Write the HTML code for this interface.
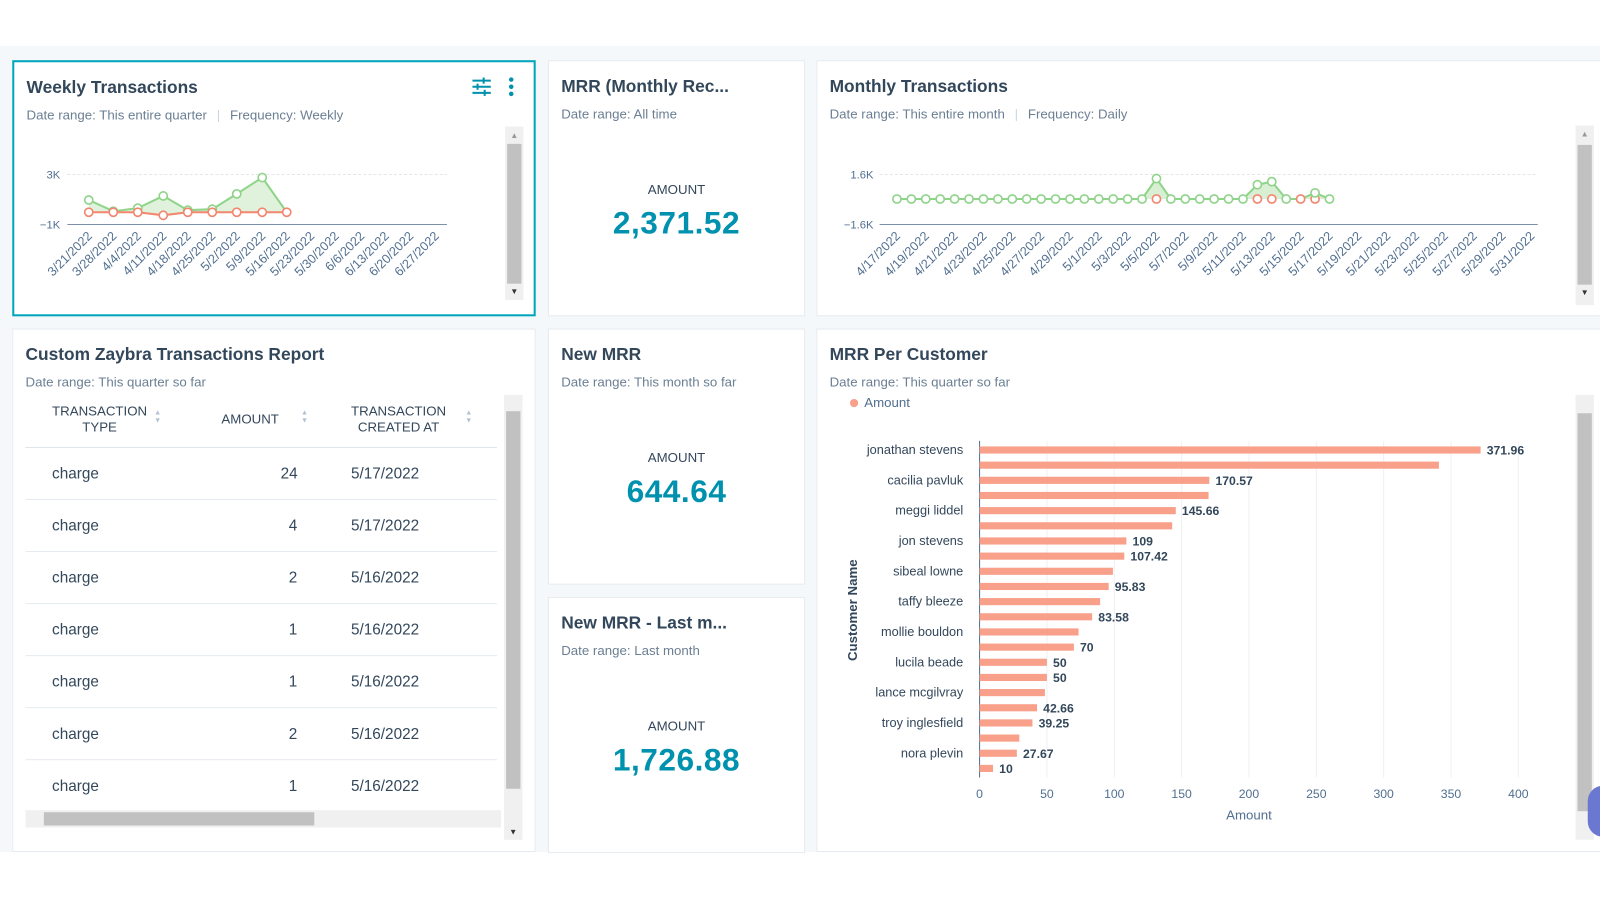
<!DOCTYPE html>
<html><head><meta charset="utf-8"><style>
*{box-sizing:border-box;margin:0;padding:0}
body{width:1600px;height:900px;background:#fff;font-family:"Liberation Sans",sans-serif;color:#33475b;position:relative;overflow:hidden}
#w{position:absolute;left:0;top:0;width:1568px;height:882px;transform:scale(1.0204);transform-origin:0 0}
.bg{position:absolute;left:0;top:45px;width:1600px;height:790px;background:#f5f8fa}
.card{position:absolute;background:#fff;border:1px solid #e5ebf0}
.t{position:absolute;left:12px;top:15px;font-size:17px;font-weight:bold;color:#33475b;white-space:nowrap}
.s{position:absolute;left:12px;top:44px;font-size:13px;color:#6b7f93;white-space:nowrap}
.amt{position:absolute;width:100%;text-align:center;font-size:13px;color:#33475b}
.big{position:absolute;width:100%;text-align:center;font-size:31px;font-weight:bold;color:#0091ae;letter-spacing:0.5px}
.sb{position:absolute;background:#f0f0f0}
.th{position:absolute;background:#c1c1c1}
.row{position:absolute;left:12px;width:462px;height:51px;border-bottom:1px solid #e5ebf0;font-size:15px;color:#33475b}
.row span{position:absolute;top:17px}
</style></head><body><div id="w">
<div class="bg"></div>

<div class="card" style="left:12px;top:59px;width:513px;height:251px;border:2px solid #00a4bd">
<div class="t">Weekly Transactions</div>
<div class="s">Date range: This entire quarter <span style="color:#cbd6e2;margin:0 6px">|</span> Frequency: Weekly</div>
<svg style="position:absolute;left:447px;top:14px" width="22" height="20"><g stroke="#0091ae" stroke-width="2"><line x1="2" y1="4" x2="20" y2="4"/><line x1="2" y1="10" x2="20" y2="10"/><line x1="2" y1="16" x2="20" y2="16"/></g><g fill="#0091ae"><rect x="12" y="1" width="2" height="6"/><rect x="6" y="7" width="2" height="6"/><rect x="13" y="13" width="2" height="6"/></g></svg>
<svg style="position:absolute;left:483px;top:14px" width="8" height="20"><circle cx="4" cy="3" r="2.2" fill="#0091ae"/><circle cx="4" cy="10" r="2.2" fill="#0091ae"/><circle cx="4" cy="17" r="2.2" fill="#0091ae"/></svg>
<div class="sb" style="left:481px;top:63px;width:18px;height:170px"></div>
<div class="th" style="left:483px;top:80px;width:14px;height:137px"></div>
<div style="position:absolute;left:486px;top:67px;font-size:8px;color:#999">▲</div>
<div style="position:absolute;left:486px;top:220px;font-size:8px;color:#333">▼</div>
</div>
<svg style="position:absolute;left:0;top:0" width="540" height="310">
<line x1="66" y1="171" x2="438" y2="171" stroke="#e6e6e6" stroke-dasharray="3,2"/>
<line x1="66" y1="220" x2="438" y2="220" stroke="#7d8fa9"/>
<text x="59" y="175" font-size="11" fill="#516f90" text-anchor="end" font-family="Liberation Sans">3K</text>
<text x="59" y="224" font-size="11" fill="#516f90" text-anchor="end" font-family="Liberation Sans">−1K</text>
<polygon points="87,196 111,207 135,204 160,192 184,206 208,205 232,190 257,174 281,208 281,208 257,208 232,208 208,208 184,208 160,211 135,208 111,208 87,208" fill="#d8efd3" opacity="0.8"/>
<polyline points="87,196 111,207 135,204 160,192 184,206 208,205 232,190 257,174 281,208" fill="none" stroke="#8fd48a" stroke-width="2"/>
<polyline points="87,208 111,208 135,208 160,211 184,208 208,208 232,208 257,208 281,208" fill="none" stroke="#f2866e" stroke-width="2"/>
<g fill="#fff" stroke="#8fd48a" stroke-width="1.6"><circle cx="87" cy="196" r="4"/><circle cx="111" cy="207" r="4"/><circle cx="135" cy="204" r="4"/><circle cx="160" cy="192" r="4"/><circle cx="184" cy="206" r="4"/><circle cx="208" cy="205" r="4"/><circle cx="232" cy="190" r="4"/><circle cx="257" cy="174" r="4"/></g>
<g fill="#fff" stroke="#f2866e" stroke-width="1.6"><circle cx="87" cy="208" r="4"/><circle cx="111" cy="208" r="4"/><circle cx="135" cy="208" r="4"/><circle cx="160" cy="211" r="4"/><circle cx="184" cy="208" r="4"/><circle cx="208" cy="208" r="4"/><circle cx="232" cy="208" r="4"/><circle cx="257" cy="208" r="4"/><circle cx="281" cy="208" r="4"/></g>
<g font-size="12.5" fill="#516f90" font-family="Liberation Sans" text-anchor="end">
<text transform="translate(91,232) rotate(-45)">3/21/2022</text><text transform="translate(115,232) rotate(-45)">3/28/2022</text><text transform="translate(139,232) rotate(-45)">4/4/2022</text><text transform="translate(164,232) rotate(-45)">4/11/2022</text><text transform="translate(188,232) rotate(-45)">4/18/2022</text><text transform="translate(212,232) rotate(-45)">4/25/2022</text><text transform="translate(236,232) rotate(-45)">5/2/2022</text><text transform="translate(261,232) rotate(-45)">5/9/2022</text><text transform="translate(285,232) rotate(-45)">5/16/2022</text><text transform="translate(309,232) rotate(-45)">5/23/2022</text><text transform="translate(333,232) rotate(-45)">5/30/2022</text><text transform="translate(358,232) rotate(-45)">6/6/2022</text><text transform="translate(382,232) rotate(-45)">6/13/2022</text><text transform="translate(406,232) rotate(-45)">6/20/2022</text><text transform="translate(431,232) rotate(-45)">6/27/2022</text>
</g></svg>

<div class="card" style="left:537px;top:59px;width:252px;height:251px">
<div class="t">MRR (Monthly Rec...</div><div class="s">Date range: All time</div>
<div class="amt" style="top:118px">AMOUNT</div><div class="big" style="top:141px">2,371.52</div></div>

<div class="card" style="left:800px;top:59px;width:790px;height:251px">
<div class="t">Monthly Transactions</div>
<div class="s">Date range: This entire month <span style="color:#cbd6e2;margin:0 6px">|</span> Frequency: Daily</div>
<div class="sb" style="left:743px;top:63px;width:18px;height:176px"></div>
<div class="th" style="left:745px;top:82px;width:14px;height:137px"></div>
<div style="position:absolute;left:748px;top:67px;font-size:8px;color:#999">▲</div>
<div style="position:absolute;left:748px;top:222px;font-size:8px;color:#333">▼</div>
</div>
<svg id="m" style="position:absolute;left:0;top:0" width="1600" height="310"></svg>

<div class="card" style="left:12px;top:322px;width:513px;height:513px">
<div class="t">Custom Zaybra Transactions Report</div><div class="s">Date range: This quarter so far</div>
<div style="position:absolute;left:12px;top:72px;width:462px;height:44px;border-bottom:1px solid #dfe3eb;font-size:13px;color:#33475b">
<div style="position:absolute;left:26px;top:0;text-align:center;line-height:16px">TRANSACTION<br>TYPE</div>
<div style="position:absolute;left:192px;top:8px">AMOUNT</div>
<div style="position:absolute;left:319px;top:0;text-align:center;line-height:16px">TRANSACTION<br>CREATED AT</div>
<div style="position:absolute;left:126px;top:6px;font-size:7px;color:#b0c1d4;line-height:8px">▲<br>▼</div>
<div style="position:absolute;left:270px;top:6px;font-size:7px;color:#b0c1d4;line-height:8px">▲<br>▼</div>
<div style="position:absolute;left:431px;top:6px;font-size:7px;color:#b0c1d4;line-height:8px">▲<br>▼</div>
</div>
<div class="row" style="top:116px"><span style="left:26px">charge</span><span style="left:250px">24</span><span style="left:319px">5/17/2022</span></div>
<div class="row" style="top:167px"><span style="left:26px">charge</span><span style="left:258px">4</span><span style="left:319px">5/17/2022</span></div>
<div class="row" style="top:218px"><span style="left:26px">charge</span><span style="left:258px">2</span><span style="left:319px">5/16/2022</span></div>
<div class="row" style="top:269px"><span style="left:26px">charge</span><span style="left:258px">1</span><span style="left:319px">5/16/2022</span></div>
<div class="row" style="top:320px"><span style="left:26px">charge</span><span style="left:258px">1</span><span style="left:319px">5/16/2022</span></div>
<div class="row" style="top:371px"><span style="left:26px">charge</span><span style="left:258px">2</span><span style="left:319px">5/16/2022</span></div>
<div class="row" style="top:422px;border:none"><span style="left:26px">charge</span><span style="left:258px">1</span><span style="left:319px">5/16/2022</span></div>
<div class="sb" style="left:12px;top:471px;width:466px;height:17px"></div>
<div class="th" style="left:30px;top:473px;width:265px;height:13px"></div>
<div class="sb" style="left:481px;top:64px;width:18px;height:436px"></div>
<div class="th" style="left:483px;top:80px;width:14px;height:370px"></div>
<div style="position:absolute;left:486px;top:488px;font-size:8px;color:#333">▼</div>
</div>

<div class="card" style="left:537px;top:322px;width:252px;height:251px">
<div class="t">New MRR</div><div class="s">Date range: This month so far</div>
<div class="amt" style="top:118px">AMOUNT</div><div class="big" style="top:141px">644.64</div></div>
<div class="card" style="left:537px;top:585px;width:252px;height:251px">
<div class="t">New MRR - Last m...</div><div class="s">Date range: Last month</div>
<div class="amt" style="top:118px">AMOUNT</div><div class="big" style="top:141px">1,726.88</div></div>

<div class="card" style="left:800px;top:322px;width:790px;height:513px">
<div class="t">MRR Per Customer</div><div class="s">Date range: This quarter so far</div>
<div style="position:absolute;left:32px;top:64px;font-size:13px;color:#516f90"><span style="display:inline-block;width:8px;height:8px;border-radius:50%;background:#f8a08a;margin-right:6px"></span>Amount</div>
<div class="sb" style="left:743px;top:64px;width:18px;height:436px"></div>
<div class="th" style="left:745px;top:82px;width:14px;height:390px"></div>
</div>
<svg id="b" style="position:absolute;left:0;top:0" width="1600" height="900"></svg>
<div style="position:absolute;left:1556px;top:770px;width:30px;height:50px;border-radius:15px;background:#6a78d1"></div>
</div>
<script>
var ns="http://www.w3.org/2000/svg";
function el(p,t,a,txt){var e=document.createElementNS(ns,t);for(var k in a)e.setAttribute(k,a[k]);if(txt!==undefined)e.textContent=txt;p.appendChild(e);return e;}
var m=document.getElementById('m');
el(m,'line',{x1:862,y1:171,x2:1507,y2:171,stroke:'#e6e6e6','stroke-dasharray':'3,2'});
el(m,'line',{x1:862,y1:220,x2:1507,y2:220,stroke:'#7d8fa9'});
el(m,'text',{x:856,y:175,'font-size':11,fill:'#516f90','text-anchor':'end','font-family':'Liberation Sans'},'1.6K');
el(m,'text',{x:856,y:224,'font-size':11,fill:'#516f90','text-anchor':'end','font-family':'Liberation Sans'},'−1.6K');
var g={18:175,25:181,26:178,29:189},red=[18,25,26,28,29];
var pts=[],bp=[];for(var i=0;i<31;i++){var x=879+i*14.13;pts.push(x+','+(g[i]||195));bp.unshift(x+',195');}
el(m,'polygon',{points:pts.concat(bp).join(' '),fill:'#d8efd3'});
el(m,'polyline',{points:pts.join(' '),fill:'none',stroke:'#8fd48a','stroke-width':2});
red.forEach(function(i){el(m,'circle',{cx:879+i*14.13,cy:195,r:4,fill:'#fff',stroke:'#f2866e','stroke-width':1.6});});
for(var i=0;i<31;i++)if(g[i]||red.indexOf(i)<0)el(m,'circle',{cx:879+i*14.13,cy:g[i]||195,r:4,fill:'#fff',stroke:'#8fd48a','stroke-width':1.6});
var d=[];for(var k=17;k<=30;k+=2)d.push('4/'+k+'/2022');for(var k=1;k<=31;k+=2)d.push('5/'+k+'/2022');
d.forEach(function(s,j){var x=879+j*28.26+4;el(m,'text',{transform:'translate('+x+',232) rotate(-45)','font-size':12.5,fill:'#516f90','text-anchor':'end','font-family':'Liberation Sans'},s);});
var b=document.getElementById('b');
for(var v=0;v<=400;v+=50){var x=960+v*1.32;if(v)el(b,'line',{x1:x,y1:432,x2:x,y2:762,stroke:'#eef0f3'});el(b,'text',{x:x,y:782,'font-size':12,fill:'#516f90','text-anchor':'middle','font-family':'Liberation Sans'},v);}
el(b,'line',{x1:960,y1:432,x2:960,y2:762,stroke:'#516f90'});
var vals=[371.96,341,170.57,170,145.66,143,109,107.42,99,95.83,89.5,83.58,73.5,70,50,50,48.5,42.66,39.25,29.5,27.67,10];
var lab=[1,0,1,0,1,0,1,1,0,1,0,1,0,1,1,1,0,1,1,0,1,1];
var names=['jonathan stevens','cacilia pavluk','meggi liddel','jon stevens','sibeal lowne','taffy bleeze','mollie bouldon','lucila beade','lance mcgilvray','troy inglesfield','nora plevin'];
vals.forEach(function(v,i){var y=441+i*14.86;el(b,'rect',{x:960,y:y-3.5,width:v*1.32,height:7,fill:'#f8a08a'});
if(lab[i])el(b,'text',{x:966+v*1.32,y:y+4.5,'font-size':12,'font-weight':'bold',fill:'#33475b','font-family':'Liberation Sans'},String(v));});
names.forEach(function(n,j){el(b,'text',{x:944,y:445+j*29.72,'font-size':12.5,fill:'#33475b','text-anchor':'end','font-family':'Liberation Sans'},n);});
el(b,'text',{x:1224,y:803,'font-size':13,fill:'#516f90','text-anchor':'middle','font-family':'Liberation Sans'},'Amount');
el(b,'text',{transform:'translate(840,598) rotate(-90)','font-size':13,'font-weight':'bold',fill:'#33475b','text-anchor':'middle','font-family':'Liberation Sans'},'Customer Name');
</script>
</body></html>
